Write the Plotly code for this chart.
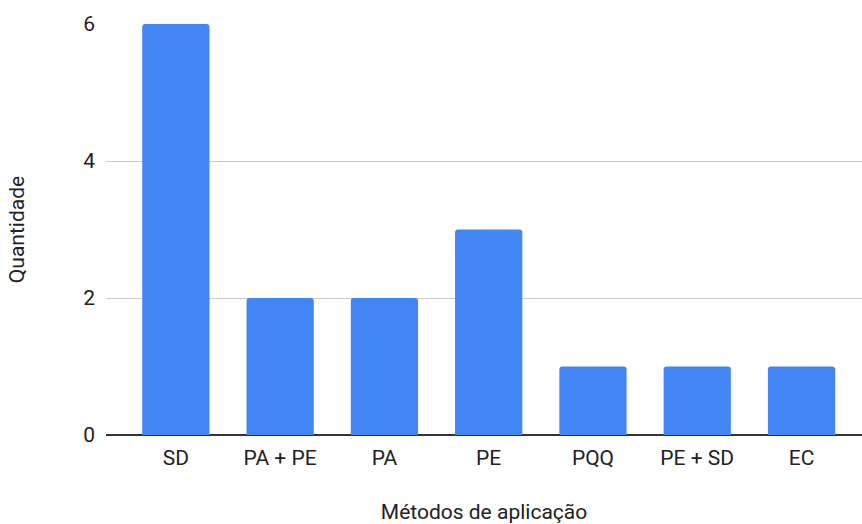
import plotly.graph_objects as go

metodos = ["SD", "PA + PE", "PA", "PE", "PQQ", "PE + SD", "EC"]
quantidade = [6, 2, 2, 3, 1, 1, 1]
y_ticks = [0, 2, 4, 6]

fig = go.Figure(
    go.Bar(
        x=metodos,
        y=quantidade,
        marker=dict(color="#4285F4", line=dict(width=0)),
        hoverinfo="x+y",
    )
)

fig.update_layout(
    width=862,
    height=524,
    margin=dict(l=106, r=0, t=24, b=89),
    paper_bgcolor="white",
    plot_bgcolor="white",
    bargap=0.355,
    barcornerradius=3,
    font=dict(family="Roboto, Arial, sans-serif", size=21, color="#222222"),
    showlegend=False,
)

fig.update_xaxes(
    range=[-0.67, 6.58],
    showgrid=False,
    showline=False,
    ticks="",
    ticklabelstandoff=8,
    tickfont=dict(size=21, color="#222222"),
    title=dict(text="Métodos de aplicação", font=dict(size=21, color="#222222"), standoff=38),
)

fig.update_yaxes(
    range=[0, 6],
    tickvals=y_ticks,
    showgrid=True,
    gridcolor="#cccccc",
    gridwidth=1,
    zeroline=True,
    zerolinecolor="#333333",
    zerolinewidth=1.5,
    showline=False,
    ticks="",
    ticklabelstandoff=10,
    tickfont=dict(size=21, color="#222222"),
    title=dict(text="Quantidade", font=dict(size=21, color="#222222"), standoff=52),
)

fig.write_html("out.html")
